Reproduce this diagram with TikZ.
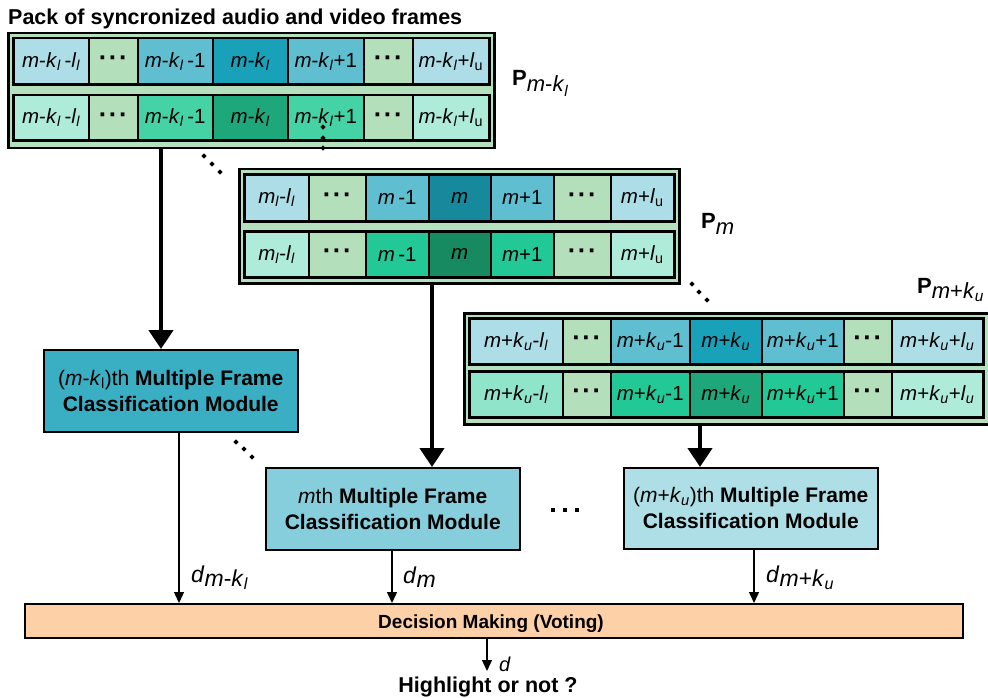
\documentclass[tikz,border=0pt]{standalone}
\usepackage{fontspec}
\setmainfont{Liberation Sans}
\usetikzlibrary{arrows.meta}

% fills
\definecolor{packbg}{HTML}{B4E0BE}
\definecolor{dotcell}{HTML}{B3DFBB}
\definecolor{vidouter}{HTML}{ADDDE6}
\definecolor{vidnear}{HTML}{5FBFD1}
\definecolor{vidmid}{HTML}{1AA1BA}
\definecolor{vidmidd}{HTML}{168A9C}
\definecolor{audouter}{HTML}{AEEBD8}
\definecolor{audouterc}{HTML}{90E4C9}
\definecolor{audnearA}{HTML}{45D3A6}
\definecolor{audnear}{HTML}{22C996}
\definecolor{audmid}{HTML}{1EA77B}
\definecolor{audmidd}{HTML}{188A62}
\definecolor{modfillA}{HTML}{3AAFC3}
\definecolor{modfillB}{HTML}{86CEDB}
\definecolor{modfillC}{HTML}{AEDFE6}
\definecolor{decidefill}{HTML}{FDD0A8}

% text helpers
\newcommand\mv{\textit{m}}
\newcommand\kLow{\textit{k}\textsubscript{\textit{l}}}
\newcommand\kUp{\textit{k}\textsubscript{\textit{u}}}
\newcommand\lLow{\textit{l}\textsubscript{\textit{l}}}
\newcommand\lUp{\textit{l}\textsubscript{u}}
\newcommand\lUpi{\textit{l}\textsubscript{\textit{u}}}
\newcommand\cellDots{{\fontsize{26}{26}\selectfont\textbf{·\kern1.5pt·\kern1.5pt·}}}
\newcommand\cellfont{\fontsize{20.5}{24}\selectfont}
\newcommand\modfont{\fontsize{21}{26}\selectfont}
\newcommand\labfont{\fontsize{22}{26}\selectfont}
\newcommand\dfont{\fontsize{23}{27}\selectfont}

\tikzset{
  packbox/.style={draw=black, line width=2.5pt, fill=packbg, inner sep=0pt, anchor=north west},
  cellbox/.style={draw=black, line width=1.5pt, inner sep=0pt, font=\cellfont},
  rowframe/.style={draw=black, line width=2.5pt},
  modbox/.style={draw=black, line width=1.5pt, inner sep=0pt, anchor=north west,
                 minimum width=254pt, minimum height=82pt, align=center, font=\modfont},
  decbox/.style={draw=black, line width=1.5pt, fill=decidefill, inner sep=0pt, anchor=north west,
                 minimum width=938pt, minimum height=34pt},
  bigarrow/.style={line width=4.5pt, -{Triangle[width=24pt,length=19pt]}},
  smallarrow/.style={line width=1.4pt, -{Triangle[width=10pt,length=11pt]}},
  lab/.style={anchor=base west, inner sep=0pt, font=\labfont},
  dlab/.style={anchor=base west, inner sep=0pt, font=\dfont},
}

% one row of frames: name prefix, top y, bottom y, list x1/x2/fill/text
\newcommand\framerow[4]{%
  \foreach \xa/\xb/\col/\txt [count=\cnt] in {#4}
    \node[cellbox, fill=\col, anchor=north west,
          minimum width={(\xb-\xa)*1pt}, minimum height={(#3-#2)*1pt}]
          (#1\cnt) at (\xa,#2) {\txt};
  \draw[rowframe] (#11.north west) rectangle (#17.south east);
}

% small diamond dot
\newcommand\dotmark[2]{\fill (#1,#2) +(0,-2.6) -- +(2.6,0) -- +(0,2.6) -- +(-2.6,0) -- cycle;}

\begin{document}
\begin{tikzpicture}[x=1pt, y=-1pt]
\useasboundingbox (0,0) rectangle (988,698);
\clip (0,0) rectangle (988,698);

% heading
\node[anchor=base west, inner sep=0pt, font=\fontsize{21.5}{25}\selectfont\bfseries] (title) at (8,25)
  {Pack of syncronized audio and video frames};

% pack m-k_l
\node[packbox, minimum width=486pt, minimum height=115pt] (packA) at (7,32) {};
\framerow{pAv}{38}{83}{13/88/vidouter/{\mv-\kLow\,-\lLow}, 88/137/dotcell/\cellDots,
  137/212/vidnear/{\mv-\kLow\,-1}, 212/287/vidmid/{\mv-\kLow}, 287/363/vidnear/{\mv-\kLow+1},
  363/412/dotcell/\cellDots, 412/488/vidouter/{\mv-\kLow+\lUp}}
\framerow{pAa}{95}{139}{13/88/audouter/{\mv-\kLow\,-\lLow}, 88/137/dotcell/\cellDots,
  137/212/audnearA/{\mv-\kLow\,-1}, 212/287/audmid/{\mv-\kLow}, 287/363/audnearA/{\mv-\kLow+1},
  363/412/dotcell/\cellDots, 412/488/audouter/{\mv-\kLow+\lUp}}
\node[lab] (labA) at (512,86) {\textbf{P}\raisebox{-6pt}{\mv-\kLow}};

% pack m
\node[packbox, minimum width=440pt, minimum height=114pt] (packB) at (238,168) {};
\framerow{pBv}{174}{220}{244/308/vidouter/{\mv\textsubscript{\textit{l}}-\lLow}, 308/365/dotcell/\cellDots,
  365/428/vidnear/{\mv\,-1}, 428/490/vidmidd/{\mv}, 490/553/vidnear/{\mv+1},
  553/610/dotcell/\cellDots, 610/673/vidouter/{\mv+\lUp}}
\framerow{pBa}{231}{276}{244/308/audouter/{\mv\textsubscript{\textit{l}}-\lLow}, 308/365/dotcell/\cellDots,
  365/428/audnear/{\mv\,-1}, 428/490/audmidd/{\mv}, 490/553/audnear/{\mv+1},
  553/610/dotcell/\cellDots, 610/673/audouter/{\mv+\lUp}}
\node[lab] (labB) at (701,228) {\textbf{P}\raisebox{-6pt}{\mv}};

% pack m+k_u
\node[packbox, minimum width=526pt, minimum height=111pt] (packC) at (463,312) {};
\framerow{pCv}{318}{363}{469/562/vidouter/{\mv+\kUp-\lLow}, 562/610/dotcell/\cellDots,
  610/689/vidnear/{\mv+\kUp-1}, 689/761/vidmid/{\mv+\kUp}, 761/843/vidnear/{\mv+\kUp+1},
  843/891/dotcell/\cellDots, 891/982/vidouter/{\mv+\kUp+\lUpi}}
\framerow{pCa}{371}{416}{469/562/audouterc/{\mv+\kUp-\lLow}, 562/610/dotcell/\cellDots,
  610/689/audnear/{\mv+\kUp-1}, 689/761/audmid/{\mv+\kUp}, 761/843/audnear/{\mv+\kUp+1},
  843/891/dotcell/\cellDots, 891/982/audouter/{\mv+\kUp+\lUpi}}
\node[lab] (labC) at (917,293) {\textbf{P}\raisebox{-5pt}{\mv+\kUp}};

% classification modules
\node[modbox, fill=modfillA] (modA) at (43,349)
  {(\mv-\textit{k}\textsubscript{l})th \textbf{Multiple Frame}\\\textbf{Classification Module}};
\node[modbox, fill=modfillB] (modB) at (265,467)
  {\mv th \textbf{Multiple Frame}\\\textbf{Classification Module}};
\node[modbox, fill=modfillC, minimum height=81pt] (modC) at (623,467)
  {(\mv+\kUp)th \textbf{Multiple Frame}\\\textbf{Classification Module}};

% voting
\node[decbox] (decide) at (24,603) {};
\node[anchor=base, inner sep=0pt, font=\fontsize{19}{22}\selectfont\bfseries] (decideText) at (491,628)
  {Decision Making (Voting)};
\node[anchor=base, inner sep=0pt, font=\fontsize{21.5}{25}\selectfont\bfseries] (result) at (488,692.5)
  {Highlight or not ?};

% arrow columns
\coordinate (xA) at (161,0);
\coordinate (xB) at (432,0);
\coordinate (xC) at (700,0);
\coordinate (xdA) at (179,0);
\coordinate (xdB) at (392,0);
\coordinate (xdC) at (754,0);
\coordinate (xd) at (487,0);
\coordinate (outEnd) at (487,671);

\draw[bigarrow] (packA.south -| xA) -- (modA.north -| xA);
\draw[bigarrow] (packB.south -| xB) -- (modB.north -| xB);
\draw[bigarrow] (packC.south -| xC) -- (modC.north -| xC);

\draw[smallarrow] (modA.south -| xdA) -- (decide.north -| xdA);
\draw[smallarrow] (modB.south -| xdB) -- (decide.north -| xdB);
\draw[smallarrow] (modC.south -| xdC) -- (decide.north -| xdC);
\draw[smallarrow] (decide.south -| xd) -- (outEnd);

\node[dlab] (dA) at (191,582) {\textit{d}\raisebox{-4pt}{\mv-\kLow}};
\node[dlab] (dB) at (403,583) {\textit{d}\raisebox{-4pt}{\mv}};
\node[dlab] (dC) at (766,582) {\textit{d}\raisebox{-4pt}{\mv+\kUp}};
\node[dlab, font=\fontsize{20}{24}\selectfont] (dOut) at (499,671) {\textit{d}};

% continuation dots
\dotmark{204}{156}\dotmark{212}{164}\dotmark{220}{172}
\dotmark{323}{127}\dotmark{323}{138}\dotmark{323}{148}
\dotmark{692}{284}\dotmark{699}{292}\dotmark{707}{300}
\dotmark{236}{442}\dotmark{244}{449}\dotmark{252}{457}
\foreach \dx in {553,565,577}
  \fill (\dx-1.8,508.2) rectangle (\dx+1.8,511.8);
\end{tikzpicture}
\end{document}
